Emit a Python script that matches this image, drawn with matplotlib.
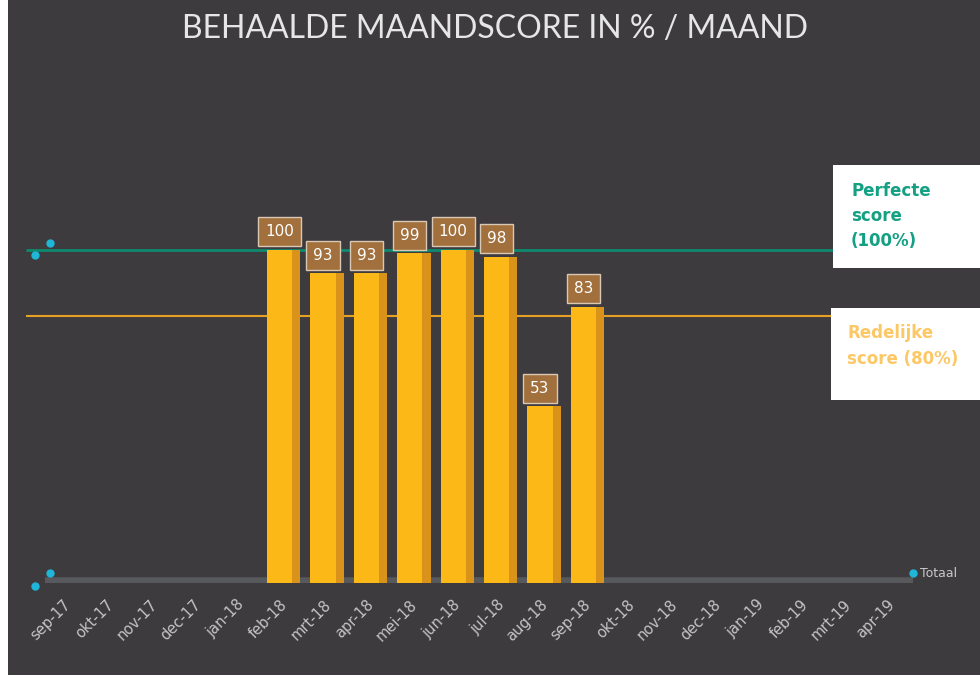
import matplotlib.pyplot as plt
import numpy as np
from matplotlib.patches import Rectangle

months = ['sep-17', 'okt-17', 'nov-17', 'dec-17', 'jan-18', 'feb-18', 'mrt-18',
          'apr-18', 'mei-18', 'jun-18', 'jul-18', 'aug-18', 'sep-18', 'okt-18',
          'nov-18', 'dec-18', 'jan-19', 'feb-19', 'mrt-19', 'apr-19']
scores = [np.nan, np.nan, np.nan, np.nan, np.nan, 100, 93, 93, 99, 100, 98, 53, 83,
          np.nan, np.nan, np.nan, np.nan, np.nan, np.nan, np.nan]
perfect = 100
reasonable = 80

BG = '#3d3b3e'
FRONT = '#fbb817'
SIDE = '#d9921a'
TEAL = '#0d8a70'
ORANGE = '#e6a024'

fig = plt.figure(figsize=(9.8, 6.75), dpi=100, facecolor=BG)
# white strip on the left edge of the scan
fig.patches.append(Rectangle((0, 0), 8 / 980, 1, transform=fig.transFigure,
                             facecolor='white', edgecolor='none', zorder=0))

ax = fig.add_axes([45 / 980, 92 / 675, 868 / 980, 533 / 675])
ax.set_facecolor(BG)
x = np.arange(len(months))
vals = np.array(scores, dtype=float)

ax.set_xlim(-0.41, 19.6)
ax.set_ylim(0, 160)

# floor
ax.axhline(0, color='#58595c', linewidth=9, zorder=1)

# reference lines (run past the plot area towards the label boxes)
ax.hlines(perfect, -0.85, 17.75, color=TEAL, linewidth=2, clip_on=False, zorder=2)
ax.hlines(reasonable, -0.85, 17.7, color=ORANGE, linewidth=1.5, clip_on=False, zorder=2)

# bars with a fake 3D side
ax.bar(x + 0.38, vals, width=0.2, color=SIDE, zorder=3)
ax.bar(x, vals, width=0.58, color=FRONT, zorder=4)

for xi, v in zip(x, vals):
    if np.isnan(v):
        continue
    ax.annotate(f'{int(v)}', (xi, v), xytext=(0, 13), textcoords='offset points',
                ha='center', va='center', fontsize=11, color='white', zorder=6,
                bbox=dict(boxstyle='square,pad=0.45', facecolor='#a2703c',
                          edgecolor='#d9c9b4', linewidth=1))

# cyan marker dots
ax.plot([-0.65, -0.3], [98.5, 102], 'o', color='#1fb6d8', markersize=5, clip_on=False, zorder=5)
ax.plot([-0.65, -0.3], [-1, 3], 'o', color='#1fb6d8', markersize=5, clip_on=False, zorder=5)
ax.plot([19.6], [3], 'o', color='#1fb6d8', markersize=5, clip_on=False, zorder=5)
ax.text(19.75, 3, 'Totaal', color='#c8c8c8', fontsize=9, va='center', ha='left')

ax.set_xticks(x)
ax.set_xticklabels(months, rotation=45, ha='right', rotation_mode='anchor',
                   color='#c4c4c4', fontsize=10.5)
ax.tick_params(axis='x', length=0, pad=10)
ax.set_yticks([])
for s in ax.spines.values():
    s.set_visible(False)

fig.text(495 / 980, 1 - 29 / 675, 'BEHAALDE MAANDSCORE IN % / MAAND', ha='center',
         va='center', fontsize=23, color='#e6e6e6', family='Lato')

# label boxes on the right
fig.patches.append(Rectangle((833 / 980, 1 - 268 / 675), 147 / 980, 103 / 675,
                             transform=fig.transFigure, facecolor='white',
                             edgecolor='none', zorder=5))
fig.patches.append(Rectangle((831 / 980, 1 - 400 / 675), 149 / 980, 92 / 675,
                             transform=fig.transFigure, facecolor='white',
                             edgecolor='none', zorder=5))
fig.text(851 / 980, 1 - 216 / 675, 'Perfecte\nscore\n(100%)', ha='left', va='center',
         fontsize=12, fontweight='bold', color='#13a083', linespacing=1.5, zorder=6)
fig.text(847 / 980, 1 - 346 / 675, 'Redelijke\nscore (80%)', ha='left', va='center',
         fontsize=12, fontweight='bold', color='#fcc865', linespacing=1.5, zorder=6)

fig.savefig('out.png', dpi=100, facecolor=BG)
